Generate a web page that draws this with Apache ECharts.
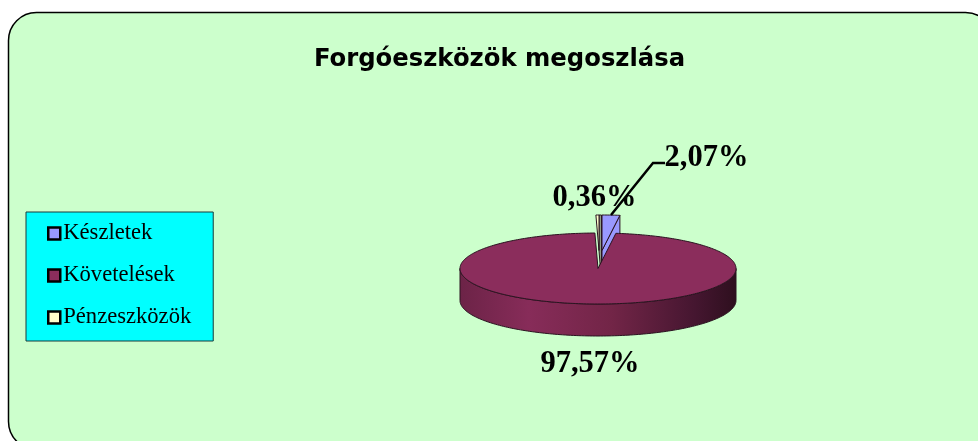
<!DOCTYPE html>
<html>
<head>
<meta charset="utf-8">
<style>
  html, body { margin: 0; padding: 0; background: #ffffff; }
  #main { width: 978px; height: 441px; }
</style>
<script src="https://cdn.jsdelivr.net/npm/echarts@6/dist/echarts.min.js"></script>
</head>
<body>
<div id="main"></div>
<script>
var categories = ['Készletek', 'Követelések', 'Pénzeszközök']
var shares = [2.07, 97.57, 0.36]
var shareLabels = ['2,07%', '97,57%', '0,36%']

var colors = ['#9999ff', '#8b2d5c', '#ffffcc']
var cx = 598, cy = 268.5, rx = 138, ry = 35.5, depth = 32
var explodeX = [4, 0, 1]
var explodeY = [-18, 0, -18]
var labelPos = [[706.5, 158], [590, 364.5], [594.5, 198]]
var edge = '#2a1420'

var total = shares.reduce(function (a, b) { return a + b }, 0)

function rad (pct) {
  return pct / total * Math.PI * 2
}

// slices run clockwise from 12 o'clock
function arc (a0, a1, ox, oy) {
  var n = Math.max(2, Math.ceil((a1 - a0) / 0.02))
  var pts = []
  for (var i = 0; i <= n; i++) {
    var a = a0 + (a1 - a0) * i / n
    pts.push([cx + ox + rx * Math.sin(a), cy + oy - ry * Math.cos(a)])
  }
  return pts
}

function renderSlice (idx) {
  return function (params, api) {
    var start = 0
    for (var i = 0; i < idx; i++) start += rad(shares[i])
    var end = start + rad(api.value(0))
    var ox = explodeX[idx], oy = explodeY[idx]
    var apex = [cx + ox, cy + oy]
    var rim = arc(start, end, ox, oy)
    var children = []

    // outer wall, only the part facing the viewer
    var w0 = Math.max(start, Math.PI / 2), w1 = Math.min(end, Math.PI * 1.5)
    if (w1 > w0) {
      var top = arc(w0, w1, ox, oy)
      var bottom = arc(w0, w1, ox, oy + depth).reverse()
      children.push({
        type: 'polygon',
        shape: { points: top.concat(bottom) },
        style: {
          fill: new echarts.graphic.LinearGradient(0, 0, 1, 0, [
            { offset: 0, color: '#6c2347' },
            { offset: 0.25, color: '#872c59' },
            { offset: 0.55, color: '#722547' },
            { offset: 0.85, color: '#451630' },
            { offset: 1, color: '#2e0f1e' }
          ]),
          stroke: edge,
          lineWidth: 1
        }
      })
    }

    // cut face of the pulled-out wedges
    if (oy < 0) {
      var last = rim[rim.length - 1]
      var skew = idx === 2 ? 2.5 : 0
      children.push({
        type: 'polygon',
        shape: {
          points: [apex, last, [last[0] + skew, last[1]], [last[0] + skew, last[1] + depth], [apex[0] + skew, apex[1] + depth]]
        },
        style: { fill: idx === 2 ? '#8f9d85' : colors[idx], stroke: edge, lineWidth: 1 }
      })
    }

    children.push({
      type: 'polygon',
      shape: { points: [apex].concat(rim) },
      style: { fill: colors[idx], stroke: edge, lineWidth: 1 }
    })

    return { type: 'group', children: children }
  }
}

var myChart = echarts.init(document.getElementById('main'))

var series = categories.map(function (name, i) {
  return {
    name: name,
    type: 'custom',
    coordinateSystem: 'none',
    renderItem: renderSlice(i),
    z: i === 1 ? 3 : 2,
    itemStyle: { color: colors[i] },
    data: [[shares[i]]],
    silent: true
  }
})

var labelText = shareLabels.map(function (t, i) {
  return {
    type: 'text',
    z: 10,
    style: {
      text: t,
      x: labelPos[i][0],
      y: labelPos[i][1],
      align: 'center',
      verticalAlign: 'middle',
      fill: '#000',
      font: 'bold 30.5px "Liberation Serif"'
    }
  }
})

var option = {
  animation: false,
  title: {
    text: 'Forgóeszközök megoszlása',
    left: 494.5,
    top: 43,
    textAlign: 'center',
    textStyle: { fontFamily: 'DejaVu Sans', fontWeight: 'bold', fontSize: 24.3, color: '#000', align: 'center' }
  },
  legend: {
    orient: 'vertical',
    left: 26,
    top: 212,
    data: categories,
    padding: [10, 22, 12, 21],
    itemGap: 19,
    itemWidth: 12,
    itemHeight: 12,
    icon: 'rect',
    backgroundColor: '#00ffff',
    borderColor: '#1a3a3a',
    borderWidth: 1,
    itemStyle: { borderColor: '#000', borderWidth: 2.5 },
    textStyle: { fontFamily: 'Liberation Serif', fontSize: 22.6, color: '#000', padding: [0, 0, 0, -2] }
  },
  graphic: [
    {
      type: 'rect',
      z: -10,
      silent: true,
      shape: { x: 8.5, y: 12.5, width: 985, height: 437, r: 28 },
      style: { fill: '#ccffcc', stroke: '#000', lineWidth: 1.5 }
    },
    {
      type: 'polyline',
      z: 10,
      silent: true,
      shape: { points: [[611, 215], [653, 163], [665, 163]] },
      style: { stroke: '#000', lineWidth: 2.5, fill: null }
    }
  ].concat(labelText),
  series: series
}

option && myChart.setOption(option)
</script>
</body>
</html>
